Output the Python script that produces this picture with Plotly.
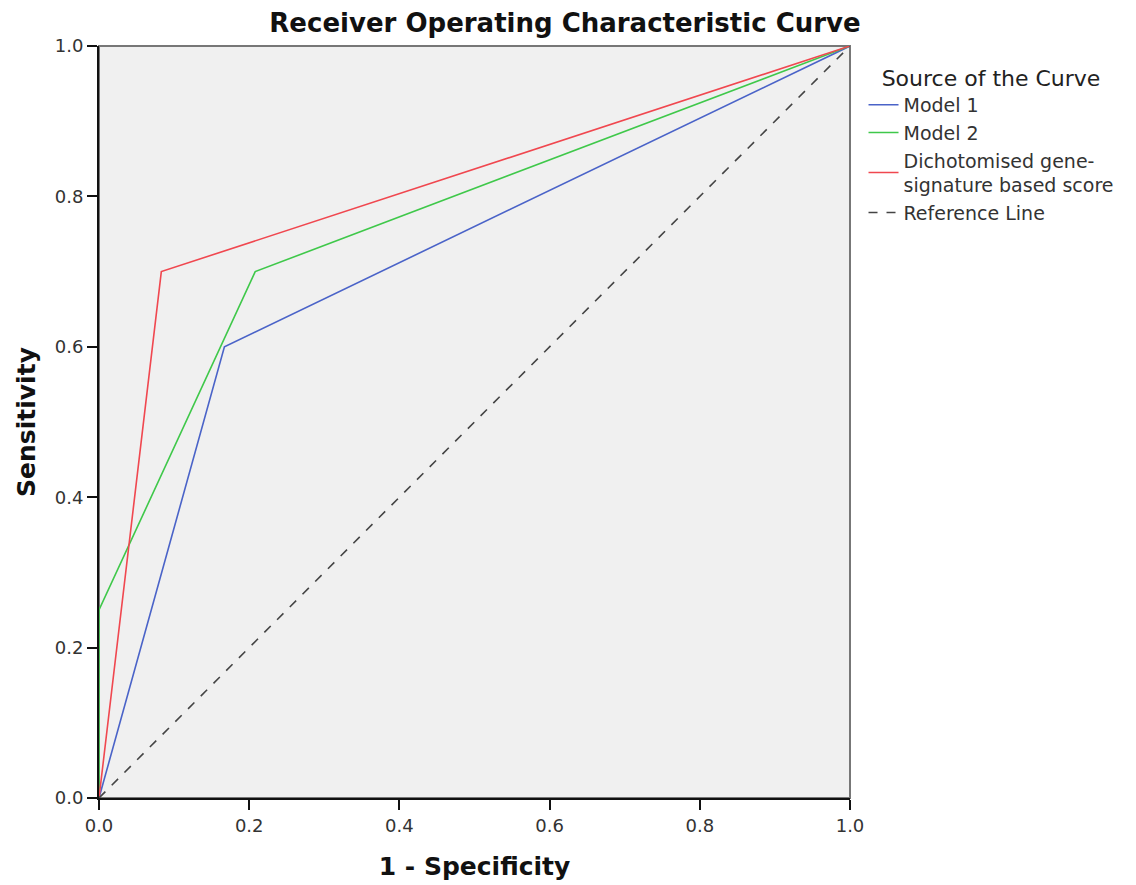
import plotly.graph_objects as go

m1_x = [0.0, 0.167, 1.0]
m1_y = [0.0, 0.6, 1.0]
m2_x = [0.0, 0.0, 0.208, 1.0]
m2_y = [0.0, 0.25, 0.7, 1.0]
gs_x = [0.0, 0.083, 1.0]
gs_y = [0.0, 0.7, 1.0]
ref_x = [0.0, 1.0]
ref_y = [0.0, 1.0]
ticks = [0.0, 0.2, 0.4, 0.6, 0.8, 1.0]
tick_text = ["0.0", "0.2", "0.4", "0.6", "0.8", "1.0"]

FONT = "DejaVu Sans"

fig = go.Figure()
fig.add_trace(go.Scatter(x=m1_x, y=m1_y, mode="lines", name="Model 1",
                         line=dict(color="#4a63c8", width=1.6)))
fig.add_trace(go.Scatter(x=m2_x, y=m2_y, mode="lines", name="Model 2",
                         line=dict(color="#3fc84a", width=1.6)))
fig.add_trace(go.Scatter(x=gs_x, y=gs_y, mode="lines",
                         name="Dichotomised gene-<br>signature based score",
                         line=dict(color="#f0474f", width=1.6)))
fig.add_trace(go.Scatter(x=ref_x, y=ref_y, mode="lines", name="Reference Line",
                         line=dict(color="#444444", width=1.6, dash="dash")))

fig.add_shape(type="rect", xref="paper", yref="paper", x0=0, y0=0, x1=1, y1=1,
              line=dict(color="#777777", width=2), layer="below")

fig.update_layout(
    width=1136, height=885,
    margin=dict(l=99, r=286, t=46, b=87),
    paper_bgcolor="white", plot_bgcolor="#f0f0f0",
    font=dict(family=FONT, color="#222222", size=16),
    title=dict(text="<b>Receiver Operating Characteristic Curve</b>",
               x=565 / 1136, xanchor="center", y=1 - 23 / 885, yanchor="middle",
               font=dict(size=26, color="#111111", family=FONT)),
    xaxis=dict(range=[0, 1], tickvals=ticks, ticktext=tick_text, automargin=False,
               showgrid=False, zeroline=False, showline=True, linecolor="#111111",
               linewidth=2, ticks="outside", ticklen=10, tickwidth=2, tickcolor="#111111",
               tickfont=dict(size=18, color="#333333"),
               title=dict(text="<b>1 - Specificity</b>", font=dict(size=25, color="#111111"), standoff=23)),
    yaxis=dict(range=[0, 1], tickvals=ticks, ticktext=tick_text, automargin=False,
               showgrid=False, zeroline=False, showline=True, linecolor="#111111",
               linewidth=2, ticks="outside", ticklen=10, tickwidth=2, tickcolor="#111111",
               tickfont=dict(size=18, color="#333333"),
               title=dict(text="<b>Sensitivity</b>", font=dict(size=25, color="#111111"), standoff=12)),
    legend=dict(x=1.018, y=0.985, xanchor="left", yanchor="top",
                bgcolor="rgba(0,0,0,0)", font=dict(size=19, color="#333333"),
                title=dict(text="Source of the Curve", side="top center",
                           font=dict(size=22, color="#222222")),
                tracegroupgap=0, itemwidth=30),
    showlegend=True,
)

fig.write_html("out.html")
